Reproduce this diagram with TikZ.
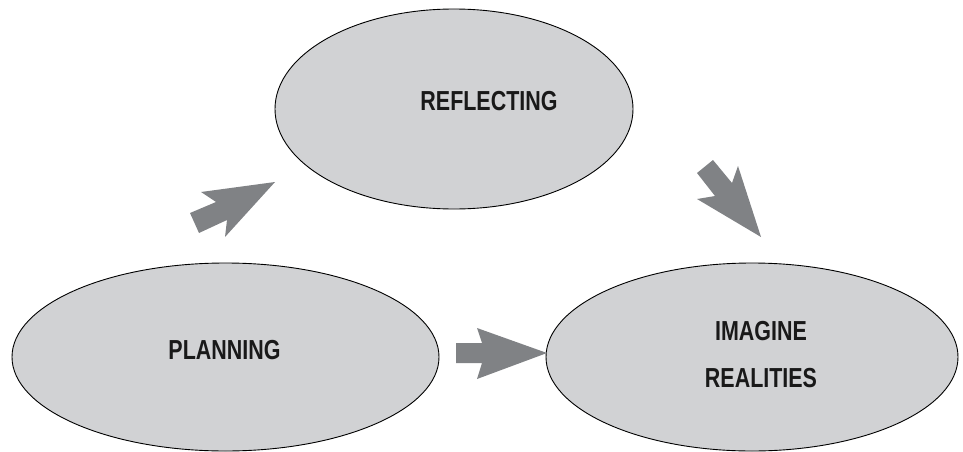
\documentclass[tikz,border=0pt]{standalone}
\usepackage{fontspec}
\setmainfont{Liberation Sans}[FakeStretch=0.78]
\usetikzlibrary{shapes.geometric}
\definecolor{ellfill}{HTML}{D1D2D4}
\definecolor{arrfill}{HTML}{808285}
\tikzset{
  bubble/.style={ellipse, draw=black, line width=0.9pt, fill=ellfill, inner sep=0pt},
  lbl/.style={font=\fontsize{27.5}{47}\selectfont\bfseries, text=black!90, align=center, inner sep=0pt},
  blockarrow/.style={fill=arrfill, draw=none}
}
\begin{document}
\begin{tikzpicture}[x=1pt,y=-1pt]
\useasboundingbox (0,0) rectangle (963,452);
% ellipses
\node[bubble, minimum width=358pt, minimum height=200pt] (refl) at (454,109) {};
\node[bubble, minimum width=427pt, minimum height=188pt] (plan) at (225.5,357) {};
\node[bubble, minimum width=412pt, minimum height=188pt] (imag) at (752,357) {};
% labels
\node[lbl] (refltext) at (489,101) {REFLECTING};
\node[lbl] (plantext) at (224.5,350) {PLANNING};
\node[lbl] (imagtext) at (761,355) {IMAGINE\\REALITIES};
% block arrows
\fill[blockarrow] (275,182) -- (201,192) -- (216,202) -- (190,213) -- (199,233) -- (227,220) -- (225,237) -- cycle;
\fill[blockarrow] (713,160) -- (732,183) -- (738,166) -- (761,237) -- (697,199) -- (715,196) -- (697,173) -- cycle;
\fill[blockarrow] (456,343) -- (482,343) -- (477,328) -- (547,353) -- (477,379) -- (482,363) -- (456,363) -- cycle;
\end{tikzpicture}
\end{document}
